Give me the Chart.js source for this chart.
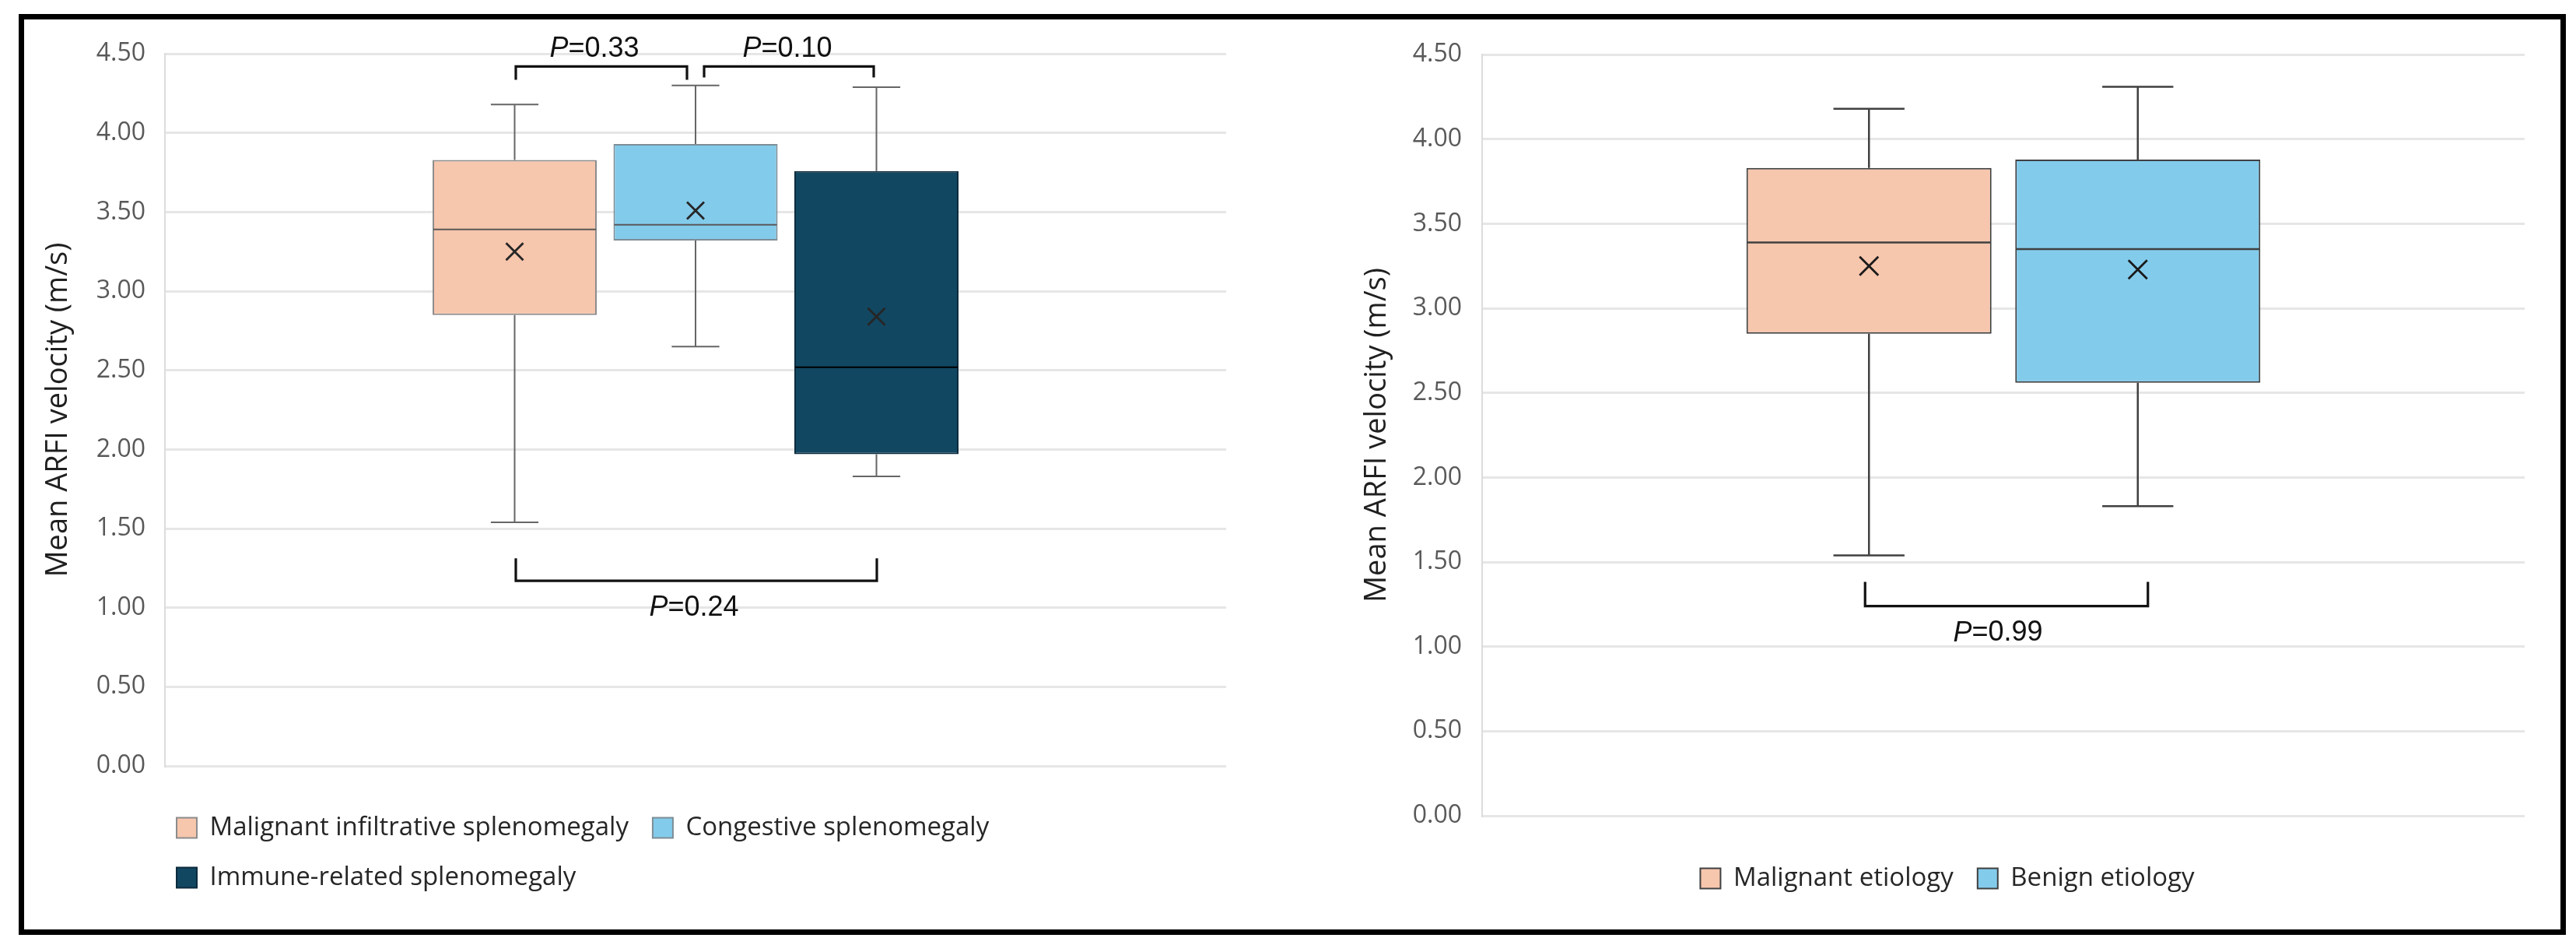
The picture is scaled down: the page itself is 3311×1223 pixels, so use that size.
<!DOCTYPE html>
<html><head><meta charset="utf-8">
<script src="https://cdn.jsdelivr.net/npm/chart.js@4.4.1/dist/chart.umd.min.js"></script>
<style>
html,body{margin:0;padding:0;background:#fff;width:3311px;height:1223px;overflow:hidden;}
#frame{position:absolute;left:24px;top:18px;width:3274px;height:1183px;border:7px solid #000;box-sizing:border-box;}
canvas{position:absolute;}
#left{left:30px;top:25px;width:1620px;height:1170px;}
#right{left:1660px;top:25px;width:1625px;height:1170px;}
</style></head><body>
<div id="frame"></div>
<canvas id="left" width="1620" height="1170"></canvas>
<canvas id="right" width="1625" height="1170"></canvas>
<script>
// ---------- data ----------
const yTickValues = [0, 0.5, 1, 1.5, 2, 2.5, 3, 3.5, 4, 4.5];
const axisTitle = 'Mean ARFI velocity (m/s)';

const leftGroups = ['Malignant infiltrative splenomegaly', 'Congestive splenomegaly', 'Immune-related splenomegaly'];
const leftMin    = [1.54, 2.65, 1.83];
const leftQ1     = [2.85, 3.32, 1.97];
const leftMedian = [3.39, 3.42, 2.52];
const leftQ3     = [3.83, 3.93, 3.76];
const leftMax    = [4.18, 4.30, 4.29];
const leftMean   = [3.25, 3.51, 2.84];
const leftPairs  = [[0, 1], [1, 2], [0, 2]];
const leftPValues = ['0.33', '0.10', '0.24'];
const leftBracketLevels = [4.42, 4.42, 1.17];

const rightGroups = ['Malignant etiology', 'Benign etiology'];
const rightMin    = [1.54, 1.83];
const rightQ1     = [2.85, 2.56];
const rightMedian = [3.39, 3.35];
const rightQ3     = [3.83, 3.88];
const rightMax    = [4.18, 4.31];
const rightMean   = [3.25, 3.23];
const rightPairs  = [[0, 1]];
const rightPValues = ['0.99'];
const rightBracketLevels = [1.24];

// ---------- styles ----------
const FONT = '"Open Sans", "Noto Sans", sans-serif';
const PFONT = '"Liberation Sans", Arial, sans-serif';
const leftFill   = ['#F6C6AD', '#83CBEB', '#124761'];
const leftBorder = ['#8c8c8c', '#7d8d96', '#0b2b3d'];
const leftMedCol = ['#595959', '#595959', '#000000'];
const rightFill   = ['#F6C6AD', '#83CBEB'];
const rightBorder = ['#404040', '#404040'];
const rightMedCol = ['#404040', '#404040'];

const leftBracketStyle = [
  {dx0: 1.5, dx1: -11, leg: 17, labelDx: -9, labelDy: -22},
  {dx0: 11, dx1: -3.5, leg: 14, labelDx: -2, labelDy: -22},
  {dx0: 1.5, dx1: 0.5, leg: -29, labelDx: -3, labelDy: 35}
];
const rightBracketStyle = [
  {dx0: -5, dx1: 13, leg: -31, labelDx: -11, labelDy: 35}
];

function boxExtras(stats, st, br) {
  return {
    id: 'boxExtras',
    afterDraw(chart) {
      const ctx = chart.ctx, ys = chart.scales.y;
      ctx.save();
      stats.min.forEach((_, i) => {
        const bar = chart.getDatasetMeta(i).data[0];
        const cx = bar.x, w = bar.width, half = w * st.capRatio / 2;
        const pMin = ys.getPixelForValue(stats.min[i]);
        const pQ1 = ys.getPixelForValue(stats.q1[i]);
        const pMed = ys.getPixelForValue(stats.median[i]);
        const pQ3 = ys.getPixelForValue(stats.q3[i]);
        const pMax = ys.getPixelForValue(stats.max[i]);
        const pMean = ys.getPixelForValue(stats.mean[i]);
        ctx.strokeStyle = st.whisker; ctx.lineWidth = st.whiskerWidth; ctx.lineCap = 'butt';
        ctx.beginPath();
        ctx.moveTo(cx, pQ3); ctx.lineTo(cx, pMax);
        ctx.moveTo(cx - half, pMax); ctx.lineTo(cx + half, pMax);
        ctx.moveTo(cx, pQ1); ctx.lineTo(cx, pMin);
        ctx.moveTo(cx - half, pMin); ctx.lineTo(cx + half, pMin);
        ctx.stroke();
        ctx.strokeStyle = st.median[i]; ctx.lineWidth = st.medianWidth;
        ctx.beginPath(); ctx.moveTo(cx - w / 2 + 1, pMed); ctx.lineTo(cx + w / 2 - 1, pMed); ctx.stroke();
        const m = st.meanSize;
        ctx.strokeStyle = st.meanColor; ctx.lineWidth = 2.8;
        ctx.beginPath();
        ctx.moveTo(cx - m, pMean - m); ctx.lineTo(cx + m, pMean + m);
        ctx.moveTo(cx + m, pMean - m); ctx.lineTo(cx - m, pMean + m);
        ctx.stroke();
      });
      br.pairs.forEach((pair, k) => {
        const s = br.style[k];
        const a = chart.getDatasetMeta(pair[0]).data[0].x + s.dx0;
        const b = chart.getDatasetMeta(pair[1]).data[0].x + s.dx1;
        const yl = ys.getPixelForValue(br.levels[k]);
        ctx.strokeStyle = '#111'; ctx.lineWidth = 3.2; ctx.lineJoin = 'miter';
        ctx.beginPath();
        ctx.moveTo(a, yl + s.leg); ctx.lineTo(a, yl); ctx.lineTo(b, yl); ctx.lineTo(b, yl + s.leg);
        ctx.stroke();
        const cx = (a + b) / 2 + s.labelDx, cy = yl + s.labelDy;
        const it = 'italic 36px ' + PFONT, rg = '36px ' + PFONT;
        ctx.font = it; const wP = ctx.measureText('P').width;
        ctx.font = rg; const rest = '=' + br.p[k]; const wR = ctx.measureText(rest).width;
        const x0 = cx - (wP + wR) / 2;
        ctx.fillStyle = '#111'; ctx.textAlign = 'left'; ctx.textBaseline = 'middle';
        ctx.font = it; ctx.fillText('P', x0, cy);
        ctx.font = rg; ctx.fillText(rest, x0 + wP, cy);
      });
      ctx.restore();
    }
  };
}

function legendShift(dx) {
  return { id: 'legendShift', afterLayout(chart) { const lg = chart.legend; if (lg) { lg.left += dx; lg.right += dx; } } };
}

function makeChart(id, groups, q1, q3, fills, borders, opt) {
  const datasets = groups.map((g, i) => ({
    label: g,
    data: [[q1[i], q3[i]]],
    backgroundColor: fills[i],
    borderColor: borders[i],
    borderWidth: 2,
    borderSkipped: false,
    categoryPercentage: opt.catPct,
    barPercentage: opt.barPct
  }));
  return new Chart(document.getElementById(id), {
    type: 'bar',
    data: { labels: [''], datasets },
    options: {
      responsive: false, animation: false, devicePixelRatio: 1,
      layout: { padding: opt.padding },
      scales: {
        x: {
          display: true,
          ticks: { display: false },
          grid: { display: false },
          border: { display: false },
          afterFit(s) { s.height = opt.xHeight; }
        },
        y: {
          min: 0, max: 4.5,
          afterBuildTicks(s) { s.ticks = yTickValues.map(v => ({ value: v })); },
          afterFit(s) { s.width = opt.yWidth; },
          ticks: { font: { family: FONT, size: 32 }, color: '#595959', padding: opt.tickPad, callback: v => Number(v).toFixed(2) },
          grid: { color: '#e6e6e6', lineWidth: 3, drawTicks: false },
          border: { display: true, color: '#dcdcdc', width: 2 },
          title: { display: true, text: axisTitle, font: { family: FONT, size: 38 }, color: '#1f1f1f', padding: { top: 12, bottom: 0 } }
        }
      },
      plugins: {
        tooltip: { enabled: false },
        legend: {
          position: 'bottom', fullSize: false, align: opt.legendAlign,
          labels: { boxWidth: 26, boxHeight: 26, padding: 31, font: { family: FONT, size: 33 }, color: '#262626' }
        }
      }
    },
    plugins: [boxExtras(opt.stats, opt.style, opt.brackets), legendShift(opt.legendDx)]
  });
}

makeChart('left', leftGroups, leftQ1, leftQ3, leftFill, leftBorder, {
  catPct: 0.5114, barPct: 0.9075,
  padding: { left: 10, right: 74, top: 41, bottom: 41 },
  xHeight: 32, yWidth: 172, tickPad: 25,
  legendAlign: 'start', legendDx: -16,
  stats: { min: leftMin, q1: leftQ1, median: leftMedian, q3: leftQ3, max: leftMax, mean: leftMean },
  style: { capRatio: 0.29, whisker: '#666666', whiskerWidth: 2, median: leftMedCol, medianWidth: 2, meanSize: 11, meanColor: '#262626' },
  brackets: { pairs: leftPairs, p: leftPValues, levels: leftBracketLevels, style: leftBracketStyle }
});

makeChart('right', rightGroups, rightQ1, rightQ3, rightFill, rightBorder, {
  catPct: 0.5157, barPct: 0.9117,
  padding: { left: 75, right: 40, top: 43, bottom: 40 },
  xHeight: 33, yWidth: 170, tickPad: 26,
  legendAlign: 'center', legendDx: -72,
  stats: { min: rightMin, q1: rightQ1, median: rightMedian, q3: rightQ3, max: rightMax, mean: rightMean },
  style: { capRatio: 0.29, whisker: '#404040', whiskerWidth: 2.5, median: rightMedCol, medianWidth: 2.5, meanSize: 12, meanColor: '#1a1a1a' },
  brackets: { pairs: rightPairs, p: rightPValues, levels: rightBracketLevels, style: rightBracketStyle }
});
</script>
</body></html>
